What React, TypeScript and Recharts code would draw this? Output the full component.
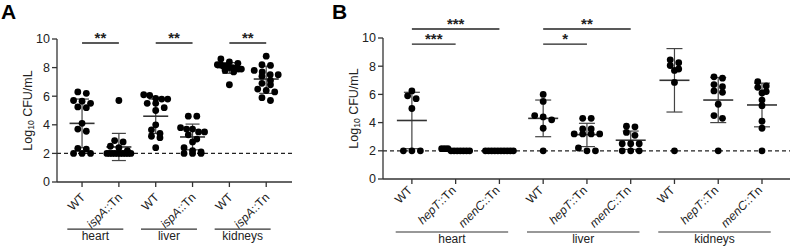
import React from "react";
import { ScatterChart, Scatter, XAxis, YAxis, ErrorBar, ReferenceLine } from "recharts";

// ---- panel A: WT vs ispA::Tn ----
const aTicks = ["WT", "ispA::Tn", "WT", "ispA::Tn", "WT", "ispA::Tn"];
const aHeartWT = [6.3, 6.2, 5.7, 5.65, 5.5, 5.25, 5.2, 4.1, 3.7, 3.55, 2.35, 2.3, 2.0, 2.0, 2.0];
const aHeartIspA = [5.7, 2.9, 2.8, 2.5, 2.4, 2.2, 2.0, 2.0, 2.0, 2.0, 2.0, 2.0, 2.0, 2.0, 2.0, 2.0];
const aLiverWT = [6.1, 6.05, 5.85, 5.8, 5.8, 5.5, 5.5, 5.2, 5.0, 4.0, 3.65, 3.4, 3.2, 3.1, 2.4];
const aLiverIspA = [4.6, 4.6, 3.8, 3.7, 3.7, 3.5, 3.5, 3.3, 3.0, 2.8, 2.4, 2.2, 2.1, 2.0, 2.0, 2.0];
const aKidneyWT = [8.6, 8.4, 8.3, 8.2, 8.2, 8.1, 8.1, 8.0, 8.0, 7.95, 7.9, 7.9, 7.8, 7.7, 6.8];
const aKidneyIspA = [8.8, 8.2, 8.15, 7.8, 7.7, 7.5, 7.5, 7.4, 7.1, 6.9, 6.8, 6.5, 6.4, 6.3, 5.9, 5.7];
const aValues = [aHeartWT, aHeartIspA, aLiverWT, aLiverIspA, aKidneyWT, aKidneyIspA];
const aMean = [4.1, 2.45, 4.6, 3.15, 8.0, 7.2];
const aSdLow = [2.4, 1.5, 3.4, 2.25, 7.6, 6.2];
const aSdHigh = [5.8, 3.4, 5.8, 4.05, 8.35, 8.1];
const aGroups = [
  { name: "heart", from: 0, to: 1 },
  { name: "liver", from: 2, to: 3 },
  { name: "kidneys", from: 4, to: 5 },
];
const aSig = [
  { from: 0, to: 1, level: 0, stars: "**" },
  { from: 2, to: 3, level: 0, stars: "**" },
  { from: 4, to: 5, level: 0, stars: "**" },
];

// ---- panel B: WT vs hepT::Tn vs menC::Tn ----
const bTicks = ["WT", "hepT::Tn", "menC::Tn", "WT", "hepT::Tn", "menC::Tn", "WT", "hepT::Tn", "menC::Tn"];
const bHeartWT = [6.25, 5.9, 5.7, 5.0, 2.0, 2.0, 2.0];
const bHeartHepT = [2.15, 2.15, 2.15, 2.0, 2.0, 2.0, 2.0, 2.0, 2.0, 2.0];
const bHeartMenC = [2.0, 2.0, 2.0, 2.0, 2.0, 2.0, 2.0, 2.0, 2.0, 2.0];
const bLiverWT = [6.0, 5.5, 4.5, 4.4, 4.2, 3.6, 2.0];
const bLiverHepT = [4.3, 4.3, 3.55, 3.55, 3.2, 3.2, 3.2, 3.2, 2.2, 2.0, 2.0];
const bLiverMenC = [3.75, 3.7, 3.3, 3.1, 2.5, 2.5, 2.5, 2.0, 2.0, 2.0];
const bKidneyWT = [8.45, 8.25, 8.05, 7.8, 7.7, 6.85, 2.0];
const bKidneyHepT = [7.25, 7.15, 6.7, 6.55, 6.25, 6.15, 5.3, 4.5, 4.3, 2.0];
const bKidneyMenC = [6.9, 6.6, 6.5, 6.2, 6.1, 5.6, 5.2, 4.1, 3.6, 2.0];
const bValues = [bHeartWT, bHeartHepT, bHeartMenC, bLiverWT, bLiverHepT, bLiverMenC, bKidneyWT, bKidneyHepT, bKidneyMenC];
const bMean = [4.15, 2.05, 2.0, 4.3, 3.15, 2.75, 7.0, 5.6, 5.25];
const bSdLow = [2.15, 1.95, 2.0, 3.0, 2.3, 2.1, 4.75, 4.0, 3.7];
const bSdHigh = [6.15, 2.15, 2.0, 5.6, 3.95, 3.4, 9.25, 7.2, 6.8];
const bGroups = [
  { name: "heart", from: 0, to: 2 },
  { name: "liver", from: 3, to: 5 },
  { name: "kidneys", from: 6, to: 8 },
];
const bSig = [
  { from: 0, to: 2, level: 1, stars: "***" },
  { from: 0, to: 1, level: 0, stars: "***" },
  { from: 3, to: 5, level: 1, stars: "**" },
  { from: 3, to: 4, level: 0, stars: "*" },
];

const INK = "#222";
const AXIS = "#333";
const FONT = "'Liberation Sans', Arial, sans-serif";

// GraphPad-like column scatter: near-equal values share a row, spread around the center
function swarm(vals: number[], pxPerY: number, pxPerX: number, gap: number, maxHalf: number) {
  const sorted = [...vals].sort((a, b) => b - a);
  const rows: number[][] = [];
  sorted.forEach((v) => {
    const row = rows[rows.length - 1];
    if (row && (row[0] - v) * pxPerY < 4.5) row.push(v);
    else rows.push([v]);
  });
  return rows.flatMap((row) => {
    const n = row.length;
    const step = n > 1 ? Math.min(gap, (2 * maxHalf) / (n - 1)) : 0;
    return row.map((v, j) => ({ dx: ((j - (n - 1) / 2) * step) / pxPerX, y: v }));
  });
}

interface PanelCfg {
  letter: string;
  left: number;
  width: number;
  margin: { top: number; right: number; bottom: number; left: number };
  xDomain: [number, number];
  ticks: string[];
  values: number[][];
  mean: number[];
  sdLow: number[];
  sdHigh: number[];
  groups: { name: string; from: number; to: number }[];
  sig: { from: number; to: number; level: number; stars: string }[];
  sigY: number[];
  groupY: number;
  groupPad: [number, number];
  meanHalf: number;
  cap: number;
  labelDx: number;
  labelDy: number;
  maxHalf: number;
}

const H = 248;

const Panel: React.FC<{ c: PanelCfg }> = ({ c }) => {
  const plotW = c.width - c.margin.left - 40 - c.margin.right;
  const plotH = H - c.margin.top - c.margin.bottom - 30;
  const pxPerX = plotW / (c.xDomain[1] - c.xDomain[0]);
  const pxPerY = plotH / 10;

  const points = c.values.flatMap((vals, i) =>
    swarm(vals, pxPerY, pxPerX, 8.5, c.maxHalf).map((p) => ({ x: i + p.dx, y: p.y }))
  );
  const means = c.mean.map((m, i) => ({ x: i, y: m, err: [m - c.sdLow[i], c.sdHigh[i] - m] }));

  const Tick = (props: any) => {
    const { x, y, payload } = props;
    const label = c.ticks[payload.value] ?? "";
    const parts = label.split("::");
    return (
      <text
        x={x + c.labelDx}
        y={y + c.labelDy}
        textAnchor="end"
        fontSize={12}
        fill={INK}
        fontFamily={FONT}
        transform={`rotate(-45, ${x + c.labelDx}, ${y + c.labelDy})`}
      >
        {parts.length > 1 ? (
          <>
            <tspan fontStyle="italic">{parts[0]}</tspan>
            <tspan>{"::" + parts[1]}</tspan>
          </>
        ) : (
          label
        )}
      </text>
    );
  };

  const YLabel = (props: any) => {
    const vb = props.viewBox;
    const cx = vb.x + 11;
    const cy = vb.y + vb.height / 2;
    return (
      <text
        x={cx}
        y={cy}
        textAnchor="middle"
        dominantBaseline="central"
        fontSize={12.5}
        fill={INK}
        fontFamily={FONT}
        transform={`rotate(-90, ${cx}, ${cy})`}
      >
        Log
        <tspan fontSize={8.5} dy={3}>10</tspan>
        <tspan dy={-3}> CFU/mL</tspan>
      </text>
    );
  };

  return (
    <div style={{ position: "absolute", left: c.left, top: 0, width: c.width, height: H }}>
      <div
        style={{
          position: "absolute",
          left: c.letter === "A" ? 1 : 22,
          top: 0,
          fontFamily: FONT,
          fontWeight: "bold",
          fontSize: 21,
          lineHeight: "normal",
          color: "#000",
        }}
      >
        {c.letter}
      </div>
      <ScatterChart width={c.width} height={H} margin={c.margin} style={{ fontFamily: FONT }}>
        <XAxis
          type="number"
          dataKey="x"
          domain={c.xDomain}
          ticks={c.ticks.map((_, i) => i)}
          interval={0}
          allowDataOverflow
          height={30}
          tickSize={5}
          tickMargin={0}
          tick={<Tick />}
          axisLine={{ stroke: AXIS, strokeWidth: 1.3 }}
          tickLine={{ stroke: AXIS, strokeWidth: 1.3 }}
        />
        <YAxis
          type="number"
          dataKey="y"
          domain={[0, 10]}
          ticks={[0, 2, 4, 6, 8, 10]}
          allowDataOverflow
          width={40}
          tickSize={5}
          tickMargin={2}
          tick={{ fontSize: 12.5, fill: INK, fontFamily: FONT }}
          axisLine={{ stroke: AXIS, strokeWidth: 1.3 }}
          tickLine={{ stroke: AXIS, strokeWidth: 1.3 }}
          label={{ content: <YLabel /> }}
        />
        <ReferenceLine y={2} stroke={INK} strokeWidth={1.2} strokeDasharray="4 3" />
        {c.sig.map((s, i) => (
          <ReferenceLine
            key={"sig" + i}
            segment={[
              { x: s.from, y: c.sigY[s.level] },
              { x: s.to, y: c.sigY[s.level] },
            ]}
            ifOverflow="visible"
            stroke={INK}
            strokeWidth={1.3}
            label={{ value: s.stars, position: "top", offset: 0, fontSize: 15, fill: INK, fontWeight: "bold" }}
          />
        ))}
        {c.groups.map((g, i) => (
          <ReferenceLine
            key={"grp" + i}
            segment={[
              { x: g.from + c.groupPad[0], y: c.groupY },
              { x: g.to + c.groupPad[1], y: c.groupY },
            ]}
            ifOverflow="visible"
            stroke={AXIS}
            strokeWidth={1.2}
            label={{ value: g.name, position: "bottom", offset: 2, fontSize: 12, fill: INK }}
          />
        ))}
        <Scatter
          data={means}
          isAnimationActive={false}
          shape={(p: any) => (
            <line x1={p.cx - c.meanHalf} x2={p.cx + c.meanHalf} y1={p.cy} y2={p.cy} stroke={AXIS} strokeWidth={1.6} />
          )}
        >
          <ErrorBar dataKey="err" direction="y" width={c.cap} stroke="#444" strokeWidth={1.2} />
        </Scatter>
        <Scatter data={points} fill="#000" isAnimationActive={false} shape={(p: any) => <circle cx={p.cx} cy={p.cy} r={3.4} fill="#000" />} />
      </ScatterChart>
    </div>
  );
};

const panelA: PanelCfg = {
  letter: "A",
  left: 0,
  width: 300,
  margin: { top: 39, right: 8, bottom: 36, left: 17 },
  xDomain: [-0.68, 5.7],
  ticks: aTicks,
  values: aValues,
  mean: aMean,
  sdLow: aSdLow,
  sdHigh: aSdHigh,
  groups: aGroups,
  sig: aSig,
  sigY: [9.72],
  groupY: -3.29,
  groupPad: [-0.4, 0.12],
  meanHalf: 12.5,
  cap: 7,
  labelDx: 4,
  labelDy: 11,
  maxHalf: 12,
};

const panelB: PanelCfg = {
  letter: "B",
  left: 310,
  width: 482,
  margin: { top: 38, right: 2, bottom: 39, left: 33 },
  xDomain: [-0.66, 8.64],
  ticks: bTicks,
  values: bValues,
  mean: bMean,
  sdLow: bSdLow,
  sdHigh: bSdHigh,
  groups: bGroups,
  sig: bSig,
  sigY: [9.57, 10.64],
  groupY: -3.76,
  groupPad: [-0.37, 0.2],
  meanHalf: 15,
  cap: 8,
  labelDx: 1,
  labelDy: 7,
  maxHalf: 14,
};

export default function App() {
  return (
    <div style={{ position: "absolute", left: 0, top: 0, width: 792, height: H, background: "#fff" }}>
      <Panel c={panelA} />
      <Panel c={panelB} />
    </div>
  );
}
